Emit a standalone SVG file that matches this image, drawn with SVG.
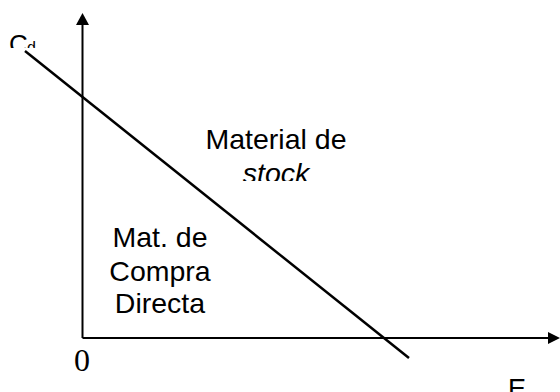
<svg xmlns="http://www.w3.org/2000/svg" width="560" height="392" viewBox="0 0 560 392">
<style>
.sans{font-family:"Liberation Sans",Arial,sans-serif;font-size:28.5px;fill:#000}
.serif{font-family:"Liberation Serif","Times New Roman",serif;font-size:32px;fill:#000}
.ax{stroke:#000;stroke-width:2;fill:none}
</style>
<defs>
<clipPath id="clipC"><rect x="0" y="0" width="60" height="48"/></clipPath>
<clipPath id="clipStock"><rect x="200" y="150" width="150" height="31"/></clipPath>
</defs>
<rect width="560" height="392" fill="#fff"/>
<g id="connectors">
<line class="ax" x1="82.5" y1="338" x2="82.5" y2="22"/>
<polygon points="82.5,13 76,25 89,25" fill="#000"/>
<line class="ax" x1="82.5" y1="338" x2="550" y2="338"/>
<polygon points="560,338 548,332 548,344" fill="#000"/>
<line x1="25" y1="51" x2="409" y2="358" stroke="#000" stroke-width="2.5"/>
</g>
<g id="label-c" clip-path="url(#clipC)">
<text class="sans" x="9" y="53" style="font-size:26px">C</text>
<text class="sans" x="27" y="53" style="font-size:16px">d</text>
</g>
<g id="label-0"><text class="serif" x="74" y="371">0</text></g>
<g id="label-e"><text class="sans" x="508" y="398" style="font-size:27px">E</text></g>
<g id="region-stock">
<text class="sans" x="276" y="149" text-anchor="middle">Material de</text>
<text class="sans" x="276" y="182.5" text-anchor="middle" font-style="italic" clip-path="url(#clipStock)">stock</text>
</g>
<g id="region-compra">
<text class="sans" x="160" y="247" text-anchor="middle">Mat. de</text>
<text class="sans" x="160" y="281" text-anchor="middle">Compra</text>
<text class="sans" x="160" y="313" text-anchor="middle">Directa</text>
</g>
</svg>
